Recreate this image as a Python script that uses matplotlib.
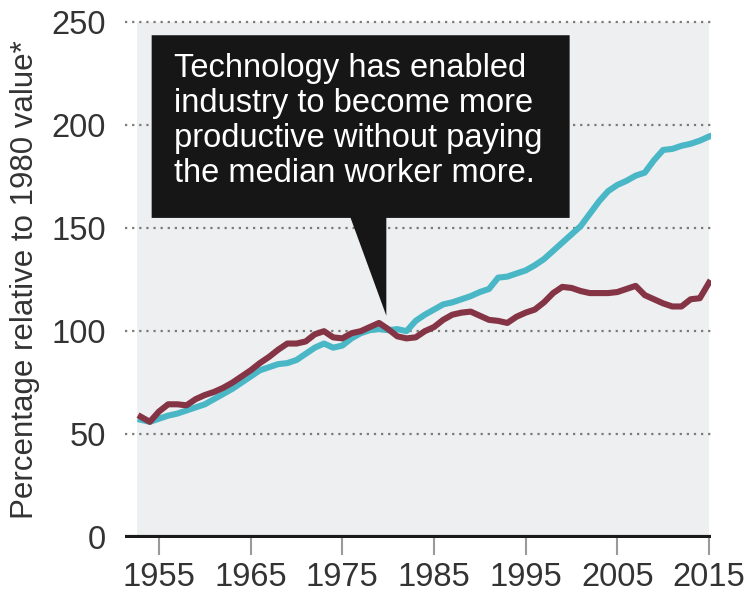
import matplotlib.pyplot as plt
from matplotlib.patches import Polygon

plt.rcParams['font.family'] = ['Liberation Sans', 'DejaVu Sans']

years = list(range(1953, 2016))

# productivity, % of 1980 level
productivity = [
    57, 56, 57.5, 59, 60, 61.5, 63, 64.5, 67, 69.5,
    72, 75, 78, 81, 82.5, 84, 84.5, 86, 89, 92,
    94, 92, 93, 96.5, 99, 100.5, 101, 100.5, 101, 100,
    105, 108, 110.5, 113, 114, 115.5, 117, 119, 120.5, 126,
    126.5, 128, 129.5, 132, 135, 139, 143, 147, 151, 157,
    163, 168, 171, 173, 175.5, 177, 183, 188, 188.5, 190,
    191, 192.5, 194.5,
]

# median worker compensation, % of 1980 level
compensation = [
    58.5, 56, 61, 64.5, 64.5, 64, 67, 69, 70.5, 72.5,
    75, 78, 81, 84.5, 87.5, 91, 94, 94, 95, 98.5,
    100, 97, 96.5, 99, 100, 102, 104, 101, 97.5, 96.5,
    97, 100, 102, 105.5, 108, 109, 109.5, 107.5, 105.5, 105,
    104, 107, 109, 110.5, 114, 118.5, 121.5, 121, 119.5, 118.5,
    118.5, 118.5, 119, 120.5, 122, 117.5, 115.5, 113.5, 112, 112,
    115.5, 116, 123.5,
]

y_ticks = [0, 50, 100, 150, 200, 250]
x_ticks = [1955, 1965, 1975, 1985, 1995, 2005, 2015]

note = ("Technology has enabled\nindustry to become more\n"
        "productive without paying\nthe median worker more.")

fig = plt.figure(figsize=(7.49, 5.94), dpi=100)
ax = fig.add_axes([0.167, 0.094, 0.782, 0.872])

# light grey plotting panel
ax.axvspan(1952.6, 2015, ymin=0, ymax=250 / 251, color='#eeeff1', lw=0, zorder=0)

# dotted guide lines
for v in y_ticks[1:]:
    ax.axhline(v, color='#7a7a7a', lw=1.6, ls=(0, (1, 2.2)), zorder=1)
ax.axhline(0, color='#1a1a1a', lw=3, zorder=5)

ax.plot(years, productivity, color='#4ab7c6', lw=4.4, solid_joinstyle='round', zorder=3)
ax.plot(years, compensation, color='#853446', lw=4.4, solid_joinstyle='round', zorder=4)

# callout box with pointer
box = Polygon([(1954.2, 243.7), (1999.8, 243.7), (1999.8, 155),
               (1979.8, 155), (1979.8, 107.5), (1975.9, 155),
               (1954.2, 155)], closed=True, facecolor='#161616',
              edgecolor='none', zorder=6)
ax.add_patch(box)
ax.text(1956.6, 235, note, color='white', fontsize=23.5, va='top', ha='left',
        linespacing=1.16, zorder=7)

ax.set_xlim(1951.3, 2015.2)
ax.set_ylim(-0.5, 251)
ax.set_xticks(x_ticks)
ax.set_yticks(y_ticks)
ax.tick_params(axis='x', length=12, width=1.5, color='#9a9a9a', direction='out',
               labelsize=23.5, labelcolor='#333333', pad=5)
ax.tick_params(axis='y', length=0, labelsize=23.5, labelcolor='#333333', pad=14)
for s in ax.spines.values():
    s.set_visible(False)

ax.set_ylabel('Percentage relative to 1980 value*', fontsize=22.5, color='#333333',
              labelpad=8)

fig.savefig('out.png', dpi=100)
